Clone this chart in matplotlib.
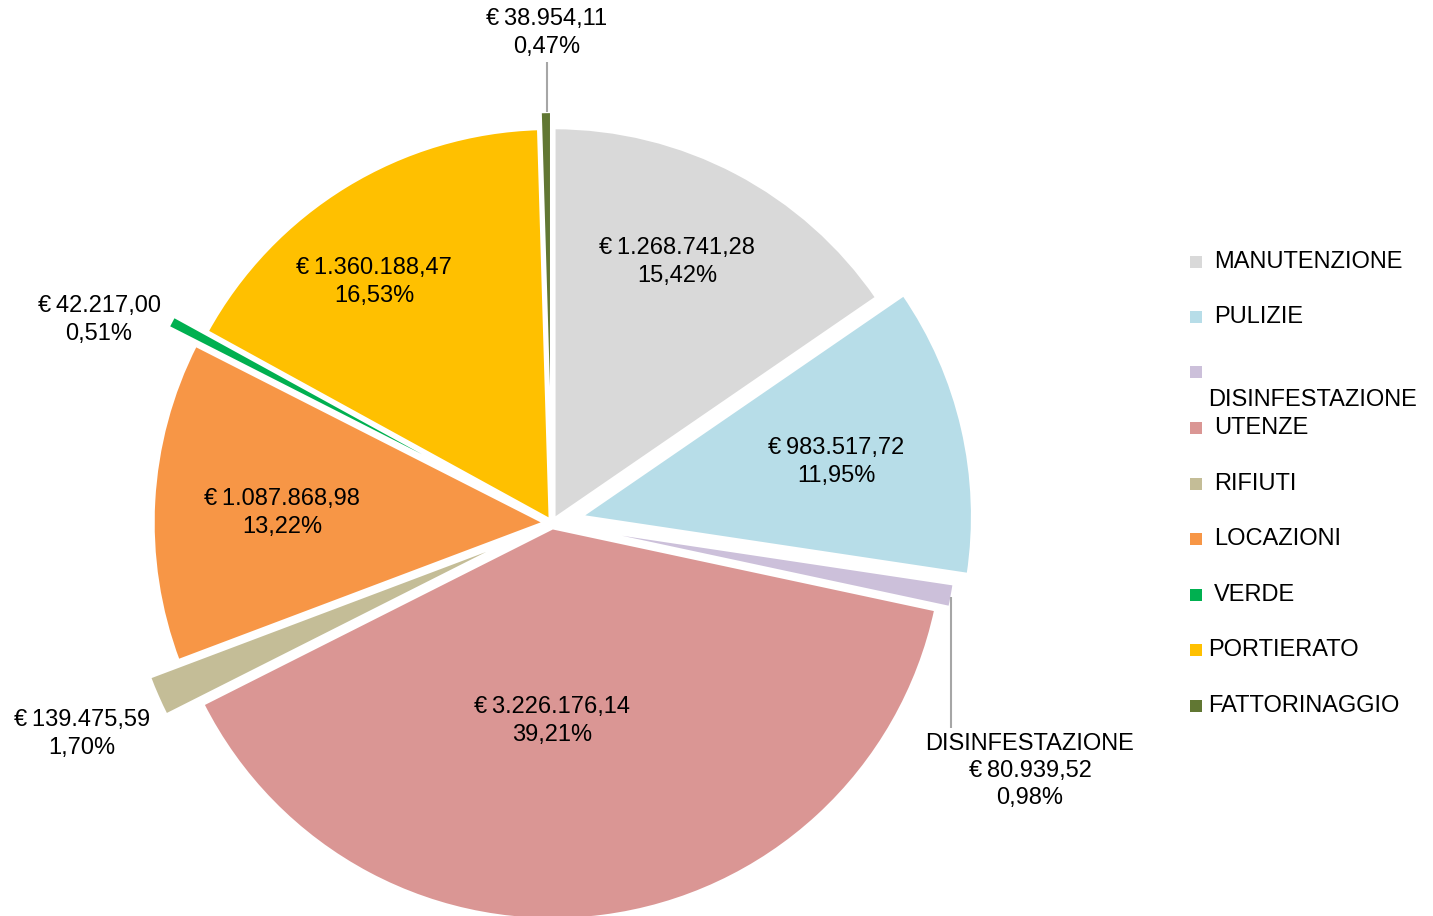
import matplotlib
matplotlib.use("Agg")
import matplotlib.pyplot as plt
from matplotlib.patches import Rectangle

plt.rcParams['font.family'] = ['Liberation Sans', 'DejaVu Sans']

categories = ["MANUTENZIONE", "PULIZIE", "DISINFESTAZIONE", "UTENZE", "RIFIUTI",
              "LOCAZIONI", "VERDE", "PORTIERATO", "FATTORINAGGIO"]
values = [1268741.28, 983517.72, 80939.52, 3226176.14, 139475.59,
          1087868.98, 42217.00, 1360188.47, 38954.11]
value_labels = ["€\u20091.268.741,28", "€\u2009983.517,72", "€\u200980.939,52",
                "€\u20093.226.176,14", "€\u2009139.475,59", "€\u20091.087.868,98",
                "€\u200942.217,00", "€\u20091.360.188,47", "€\u200938.954,11"]
pct_labels = ["15,42%", "11,95%", "0,98%", "39,21%", "1,70%",
              "13,22%", "0,51%", "16,53%", "0,47%"]

colors = ["#D9D9D9", "#B7DDE8", "#CCC0DA", "#DA9694", "#C4BD97",
          "#F79646", "#00B050", "#FFC000", "#617733"]
explode = [0.01, 0.075, 0.038, 0.012, 0.10, 0.018, 0.10, 0.008, 0.05]

W, H = 1433, 916
CX, CY, R = 552, 523, 392

fig = plt.figure(figsize=(W / 100, H / 100), dpi=100)
ax = fig.add_axes([0, 0, 1, 1])
ax.pie(values, colors=colors, explode=explode, startangle=90, counterclock=False,
       radius=1.0, wedgeprops=dict(edgecolor="white", linewidth=2.5))
ax.set_xlim(-CX / R, (W - CX) / R)
ax.set_ylim(-(H - CY) / R, CY / R)
ax.set_aspect('auto')
ax.axis('off')


def px(x, y):
    return (x - CX) / R, (CY - y) / R

# label layout (pixel positions of the label centres)
label_pos = [(677, 262), (836, 462), (1030, 771), (552, 721), (82, 734),
             (282, 513), (99, 320), (374, 282), (547, 33)]
FS = 17
for i, (x, y) in enumerate(label_pos):
    txt = value_labels[i] + "\n" + pct_labels[i]
    if categories[i] == "DISINFESTAZIONE":
        txt = categories[i] + "\n" + txt
    lx, ly = px(x, y)
    ax.text(lx, ly, txt, ha='center', va='center', fontsize=FS,
            linespacing=1.32, color='black')

# leader lines
for (x0, y0, x1, y1) in [(547, 62, 547, 112), (951, 597, 951, 728)]:
    a, b = px(x0, y0)
    c, d = px(x1, y1)
    ax.plot([a, c], [b, d], color="#A6A6A6", lw=1.5, solid_capstyle='butt')

# legend (drawn manually to mimic the wrapped entry)
marker_y = [262, 317, 372, 428, 484, 539, 595, 650, 706]
text_y = [262, 317, 400, 428, 484, 539, 595, 650, 706]
text_x = [1214, 1214, 1208, 1214, 1214, 1214, 1214, 1208, 1208]
for i, cat in enumerate(categories):
    fig.patches.append(Rectangle((1190 / W, 1 - (marker_y[i] + 6) / H), 12 / W, 12 / H,
                                 transform=fig.transFigure, facecolor=colors[i],
                                 edgecolor='none'))
    fig.text(text_x[i] / W, 1 - text_y[i] / H, cat, ha='left', va='center',
             fontsize=FS, color='black')

fig.savefig("out.png", dpi=100)
